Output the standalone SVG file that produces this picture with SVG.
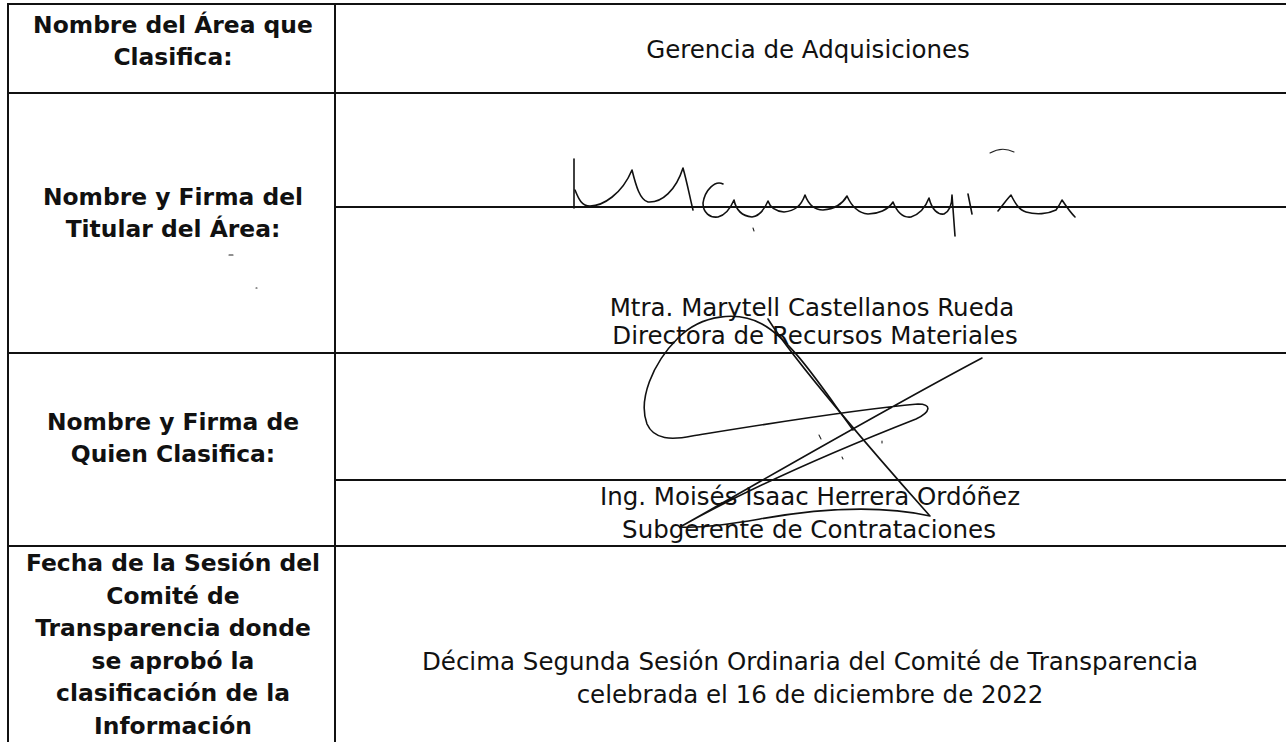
<svg xmlns="http://www.w3.org/2000/svg" width="1286" height="742" viewBox="0 0 1286 742">
<style>
.grid line{stroke:#111;stroke-width:2;stroke-linecap:square}
.lbl{font-family:"DejaVu Sans","Liberation Sans",sans-serif;font-weight:bold;font-size:23.4px;text-anchor:middle;fill:#111}
.val{font-family:"DejaVu Sans","Liberation Sans",sans-serif;font-size:24.5px;text-anchor:middle;fill:#111}
.sig{fill:none;stroke:#111;stroke-width:1.6;stroke-linecap:round;stroke-linejoin:round}
.thin{fill:none;stroke:#222;stroke-width:1.1;stroke-linecap:round}
</style>
<rect width="1286" height="742" fill="#fff"/>
<g id="grid" class="grid">
<line x1="8" y1="4" x2="1286" y2="4"/>
<line x1="8" y1="4" x2="8" y2="742"/>
<line x1="335" y1="4" x2="335" y2="742"/>
<line x1="8" y1="93" x2="1286" y2="93"/>
<line x1="335" y1="207" x2="1286" y2="207"/>
<line x1="8" y1="353" x2="1286" y2="353"/>
<line x1="335" y1="480" x2="1286" y2="480"/>
<line x1="8" y1="546" x2="1286" y2="546"/>
</g>
<g id="label-area">
<text class="lbl" x="173" y="33">Nombre del Área que</text>
<text class="lbl" x="173" y="65">Clasifica:</text>
</g>
<g id="value-area">
<text class="val" x="808" y="58">Gerencia de Adquisiciones</text>
</g>
<g id="label-titular">
<text class="lbl" x="173" y="205">Nombre y Firma del</text>
<text class="lbl" x="173" y="237">Titular del Área:</text>
<path class="thin" d="M229,255 L233,255 M256,288 L257,288"/>
</g>
<g id="value-titular">
<path class="sig" d="M574,159 L574,208"/>
<path class="sig" d="M575,190 C579,200 582,206 590,206 C603,206 622,194 632,170 C636,186 640,200 648,202 C662,203 676,190 683,168 C687,182 690,198 693,210"/>
<path class="sig" d="M723,184 C715,180 705,190 703,203 C703,213 710,218 718,217 C726,215 731,207 734,200 C736,210 742,216 752,217 C760,216 765,208 768,201 C770,207 774,211 784,212 C795,211 801,206 805,195 C808,203 813,210 823,210 C835,209 843,203 847,196 C851,205 857,213 868,214 C878,214 888,210 893,202 C897,212 903,218 911,217 C920,214 926,206 929,198 C932,210 938,215 944,214 C950,211 952,203 952,195 L955,236"/>
<path class="sig" d="M968,194 L972,214"/>
<path class="sig" d="M998,211 C1003,205 1007,199 1011,195 C1015,203 1019,210 1026,212 C1036,215 1048,214 1056,210 C1059,206 1061,202 1062,200 C1066,206 1070,212 1075,217"/>
<path class="thin" d="M990,153 Q1002,146 1014,152"/>
<path class="thin" d="M753,228 L754,231"/>
<text class="val" x="812" y="316">Mtra. Marytell Castellanos Rueda</text>
<text class="val" x="815" y="344">Directora de Recursos Materiales</text>
</g>
<g id="label-clasifica">
<text class="lbl" x="173" y="430">Nombre y Firma de</text>
<text class="lbl" x="173" y="462">Quien Clasifica:</text>
</g>
<g id="value-clasifica">
<text class="val" x="810" y="505">Ing. Moisés Isaac Herrera Ordóñez</text>
<text class="val" x="809" y="538">Subgerente de Contrataciones</text>
<path class="sig" d="M853,430 C825,392 792,340 762,324 C738,311 702,314 678,338 C652,364 638,400 647,424 C654,440 672,440 692,436 C760,425 850,410 918,404 C932,404 931,412 916,419 C860,441 760,482 680,527 C760,482 880,412 982,358"/>
<path class="sig" d="M768,319 C795,362 880,460 930,516 C880,505 822,508 760,519 C720,526 696,528 680,527"/>
<path class="thin" d="M819,435 L821,439 M842,457 L843,459 M882,441 L882,443"/>
</g>
<g id="label-fecha">
<text class="lbl" x="173" y="571">Fecha de la Sesión del</text>
<text class="lbl" x="173" y="603.5">Comité de</text>
<text class="lbl" x="173" y="636">Transparencia donde</text>
<text class="lbl" x="173" y="668.5">se aprobó la</text>
<text class="lbl" x="173" y="701">clasificación de la</text>
<text class="lbl" x="173" y="733.5">Información</text>
</g>
<g id="value-fecha">
<text class="val" x="810" y="670">Décima Segunda Sesión Ordinaria del Comité de Transparencia</text>
<text class="val" x="810" y="703">celebrada el 16 de diciembre de 2022</text>
</g>
</svg>
